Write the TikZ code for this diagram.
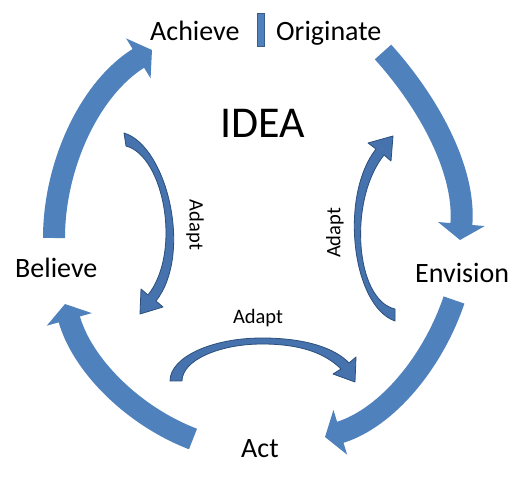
\documentclass[tikz,border=0pt]{standalone}
\usepackage{fontspec}
\setmainfont{Carlito}
\usetikzlibrary{arrows.meta}
\definecolor{bigblue}{HTML}{4F81BD}
\definecolor{smallblue}{HTML}{4672AD}
\definecolor{smalledge}{HTML}{2C4F7C}
\definecolor{baredge}{HTML}{385D8A}
\begin{document}
\begin{tikzpicture}[x=1pt,y=-1pt,
  bigarrow/.style={draw=bigblue, line width=22pt, -{Triangle[width=46pt,length=16pt]}},
  smallarrow/.style={fill=smallblue, draw=smalledge, line width=0.8pt, line join=round},
  lbl/.style={inner sep=0pt, anchor=base west, font=\fontsize{28}{30}\selectfont},
  idea/.style={inner sep=0pt, anchor=base west, font=\fontsize{44}{48}\selectfont},
  adapt/.style={inner sep=0pt, font=\fontsize{20.5}{23}\selectfont},
  sepbar/.style={fill=bigblue, draw=baredge, line width=0.8pt, minimum width=7pt, minimum height=33pt, inner sep=0pt}]
\useasboundingbox (0,0) rectangle (512,494);
\fill[white] (0,0) rectangle (512,494);

% labels
\node[lbl] (achieve) at (150,41) {Achieve};
\node[sepbar] (bar) at (260.5,29.5) {};
\node[lbl] (originate) at (276,41) {Originate};
\node[lbl] (believe) at (15,278) {Believe};
\node[lbl] (envision) at (415,283) {Envision};
\node[lbl] (act) at (241,458) {Act};
\node[idea] (idea) at (220,138) {IDEA};
\node[adapt, rotate=-90] (adaptL) at (195,225) {Adapt};
\node[adapt, rotate=90] (adaptR) at (335,233) {Adapt};
\node[adapt] (adaptB) at (258,318) {Adapt};

% big cycle arrows
\coordinate (trs) at (383,52);  \coordinate (tre) at (460,240);
\coordinate (brs) at (454,300); \coordinate (bre) at (325,437);
\coordinate (bls) at (193,439); \coordinate (ble) at (65,304);
\coordinate (tls) at (54,238);  \coordinate (tle) at (152,50);
\draw[bigarrow] (trs) .. controls (429,103) and (466,171) .. (tre);
\draw[bigarrow] (brs) .. controls (433,362) and (387,418) .. (bre);
\draw[bigarrow] (bls) .. controls (133,416) and (82,365) .. (ble);
\draw[bigarrow] (tls) .. controls (54,165) and (90,88) .. (tle);

% small adapt arrows
\path[smallarrow] (124,133) .. controls (167,146) and (193,254) .. (156,301)
  -- (163,307) -- (140,314) -- (141,289) -- (148,295)
  .. controls (182,252) and (164,156) .. (126,146) -- cycle;
\path[smallarrow] (395,321) .. controls (352,306) and (339,196) .. (376,149)
  -- (368,143) -- (393,136) -- (391,161) -- (384,155)
  .. controls (348,200) and (355,300) .. (395,309) -- cycle;
\path[smallarrow] (170,381) .. controls (170,357) and (212,338) .. (262,338)
  .. controls (305,338) and (335,348) .. (349,363)
  -- (356,357) -- (355,382) -- (333,374) -- (341,369)
  .. controls (325,353) and (300,344) .. (262,344)
  .. controls (220,344) and (182,360) .. (182,381) -- cycle;
\end{tikzpicture}
\end{document}
